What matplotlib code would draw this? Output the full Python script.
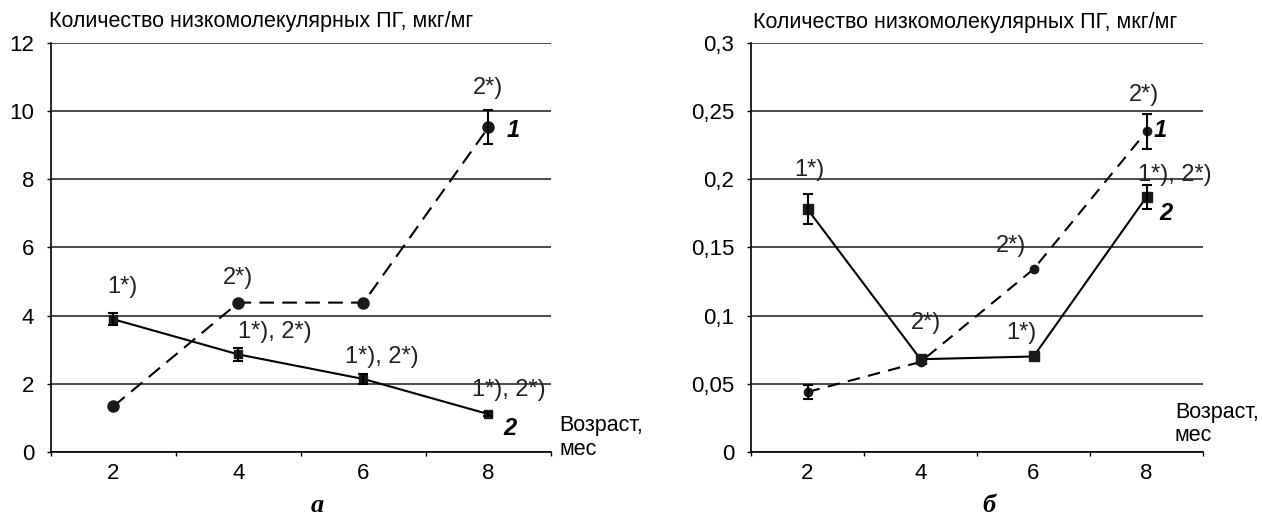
import matplotlib
matplotlib.use("Agg")
import matplotlib.pyplot as plt

plt.rcParams["font.family"] = ["Liberation Sans", "DejaVu Sans"]

# ----------------------------
# Data
# ----------------------------
ages = [2, 4, 6, 8]

# panel a
a_s1 = [1.34, 4.38, 4.38, 9.52]
a_s1_err = [0, 0, 0, 0.5]
a_s2 = [3.89, 2.86, 2.14, 1.11]
a_s2_err = [0.18, 0.2, 0.16, 0.05]

# panel b
b_s1 = [0.044, 0.066, 0.134, 0.235]
b_s1_err = [0.005, 0, 0, 0.013]
b_s2 = [0.178, 0.068, 0.070, 0.187]
b_s2_err = [0.011, 0, 0, 0.009]

a_yticks = [0, 2, 4, 6, 8, 10, 12]
a_ylabels = ["0", "2", "4", "6", "8", "10", "12"]
b_yticks = [0, 0.05, 0.1, 0.15, 0.2, 0.25, 0.3]
b_ylabels = ["0", "0,05", "0,1", "0,15", "0,2", "0,25", "0,3"]

# significance notes: (text, x, y)
a_notes = [("1*)", 2.14, 4.85), ("2*)", 4.0, 5.1), ("1*), 2*)", 4.58, 3.52),
           ("1*), 2*)", 6.3, 2.78), ("1*), 2*)", 8.33, 1.82), ("2*)", 8.0, 10.68)]
b_notes = [("1*)", 2.04, 0.207), ("2*)", 4.1, 0.0946), ("2*)", 5.6, 0.151),
           ("1*)", 5.78, 0.0873), ("2*)", 7.96, 0.262), ("1*), 2*)", 8.5, 0.203)]

YTITLE = "Количество низкомолекулярных ПГ, мкг/мг"
XTITLE = "Возраст,\nмес"

FS = 15.5
NOTE_FS = 17

fig = plt.figure(figsize=(12.62, 5.26), dpi=100)
ax1 = fig.add_axes([0.0404, 0.1407, 0.3962, 0.7781])
ax2 = fig.add_axes([0.5951, 0.1407, 0.3582, 0.7781])


def style_axes(ax, yticks, ylabels):
    ax.set_xlim(1, 9)
    ax.set_ylim(yticks[0], yticks[-1])
    ax.set_yticks(yticks, ylabels)
    ax.set_xticks([1, 3, 5, 7, 9], [""] * 5)
    ax.set_xticks(ages, [str(a) for a in ages], minor=True)
    ax.tick_params(axis="x", which="major", length=3, width=1, direction="out")
    ax.tick_params(axis="x", which="minor", length=0, pad=8, labelsize=16)
    ax.tick_params(axis="y", length=3, width=1, pad=9, labelsize=16)
    for s in ["top", "right"]:
        ax.spines[s].set_visible(False)
    for s in ["left", "bottom"]:
        ax.spines[s].set_linewidth(1.2)
    ax.grid(axis="y", color="#3c3c3c", linewidth=1.3)
    ax.set_axisbelow(True)


def errbars(ax, y, err):
    # only the points where the spread is visible
    keep = [i for i, e in enumerate(err) if e > 0]
    ax.errorbar([ages[i] for i in keep], [y[i] for i in keep],
                yerr=[err[i] for i in keep], fmt="none", ecolor="black",
                elinewidth=1.5, capsize=3.5, capthick=1.5, zorder=3)


style_axes(ax1, a_yticks, a_ylabels)
style_axes(ax2, b_yticks, b_ylabels)

mk = dict(mfc="#1a1a1a", mec="#1a1a1a", zorder=3, color="black", lw=1.5)

# panel a
ax1.plot(ages, a_s1, dashes=(7, 4), marker="o", ms=8, **mk)
errbars(ax1, a_s1, a_s1_err)
ax1.plot(ages, a_s2, marker="s", ms=6, **mk)
errbars(ax1, a_s2, a_s2_err)

# panel b
ax2.plot(ages, b_s1, dashes=(6, 4), marker="o", ms=6, **mk)
errbars(ax2, b_s1, b_s1_err)
ax2.plot(ages, b_s2, marker="s", ms=7, **mk)
errbars(ax2, b_s2, b_s2_err)

for ax, notes in [(ax1, a_notes), (ax2, b_notes)]:
    for txt, x, y in notes:
        ax.text(x, y, txt, ha="center", va="center", fontsize=NOTE_FS,
                color="#222", clip_on=False)

# curve numbers
num = dict(fontsize=17, fontweight="bold", style="italic", ha="center", va="center")
ax1.text(8.4, 9.42, "1", **num)
ax1.text(8.34, 0.70, "2", **num)
ax2.text(8.25, 0.236, "1", **num)
ax2.text(8.35, 0.175, "2", **num)

# axis titles
ax1.text(0.97, 12.61, YTITLE, fontsize=FS, ha="left", va="center", clip_on=False)
ax2.text(1.035, 0.3151, YTITLE, fontsize=FS, ha="left", va="center", clip_on=False)
ax1.text(9.13, 0.43, XTITLE, fontsize=FS, ha="left", va="center",
         linespacing=1.15, clip_on=False)
ax2.text(8.5, 0.0206, XTITLE, fontsize=FS, ha="left", va="center",
         linespacing=1.15, clip_on=False)

# panel captions
cap = dict(family="Liberation Serif", fontsize=19, fontweight="bold",
           style="italic", ha="center", va="center")
fig.text(317 / 1262, 1 - 505 / 526, "а", **cap)
fig.text(989 / 1262, 1 - 505 / 526, "б", **cap)

fig.savefig("out.png", dpi=100)
